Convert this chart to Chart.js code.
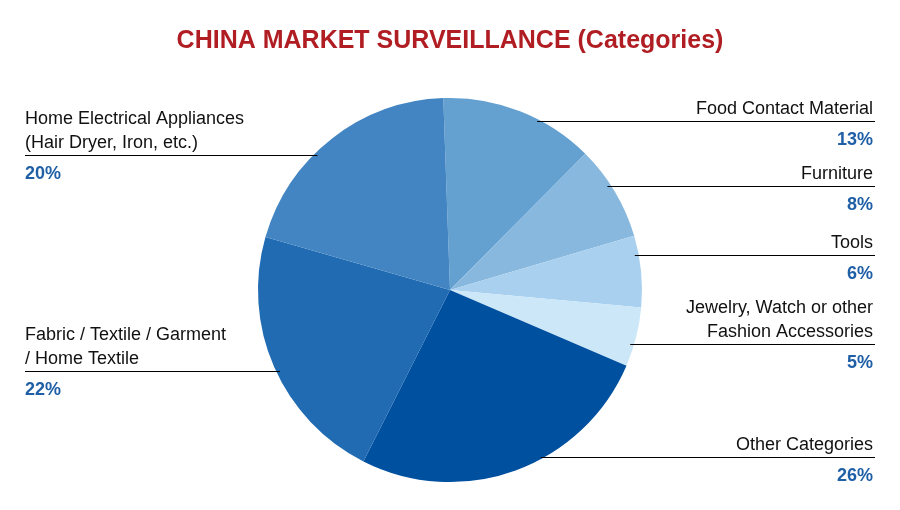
<!DOCTYPE html>
<html><head><meta charset="utf-8">
<script src="https://cdn.jsdelivr.net/npm/chart.js@4"></script>
<style>html,body{margin:0;padding:0;background:#fff}#w{width:900px;height:510px}</style>
</head><body><div id="w"><canvas id="c"></canvas></div>
<script>
const categories = ["Food Contact Material","Furniture","Tools","Jewelry, Watch or other Fashion Accessories","Other Categories","Fabric / Textile / Garment / Home Textile","Home Electrical Appliances (Hair Dryer, Iron, etc.)"];
const values = [13, 8, 6, 5, 26, 22, 20];
const colors = ["#64A0D0","#88B8DE","#A9D0EE","#CBE7F8","#0050A0","#216BB3","#4285C2"];
const labelLines = [["Food Contact Material"],["Furniture"],["Tools"],["Jewelry, Watch or other","Fashion Accessories"],["Other Categories"],["Fabric / Textile / Garment","/ Home Textile"],["Home Electrical Appliances","(Hair Dryer, Iron, etc.)"]];
const lineY = [121,186,255,344,457,371,155];
const side = ["r","r","r","r","r","l","l"];

const labelPlugin = {
  id:'lbl',
  afterDraw(chart){
    const ctx = chart.ctx;
    const arc = chart.getDatasetMeta(0).data[0];
    const cx = arc.x, cy = arc.y, r = arc.outerRadius;
    ctx.save();
    ctx.fillStyle = "#B01E24";
    ctx.font = "bold 25px 'Liberation Sans', Arial";
    ctx.textAlign = "center"; ctx.textBaseline = "alphabetic";
    ctx.fillText("CHINA MARKET SURVEILLANCE (Categories)", 450, 48);
    values.forEach((v,i)=>{
      const y = lineY[i];
      const dx = Math.sqrt(Math.max(0, r*r-(y-cy)*(y-cy)));
      const right = side[i]==="r";
      const x0 = right ? cx+dx-4 : 25, x1 = right ? 875 : cx-dx+4;
      ctx.strokeStyle="#000"; ctx.lineWidth=1;
      ctx.beginPath(); ctx.moveTo(x0,y+0.5); ctx.lineTo(x1,y+0.5); ctx.stroke();
      const tx = right ? 873 : 25;
      ctx.textAlign = right ? "right" : "left";
      ctx.font = "18px 'Liberation Sans', Arial"; ctx.fillStyle="#111";
      const L = labelLines[i];
      L.forEach((t,k)=>{ ctx.fillText(t, tx, y-7-(L.length-1-k)*24); });
      ctx.font = "bold 18px 'Liberation Sans', Arial"; ctx.fillStyle="#1F5FA6";
      ctx.fillText(v+"%", tx, y+24);
    });
    ctx.restore();
  }
};

new Chart(document.getElementById('c'),{
  type:'pie',
  data:{labels:categories,datasets:[{data:values,backgroundColor:colors,borderWidth:0}]},
  options:{responsive:true,maintainAspectRatio:false,animation:false,rotation:-2,
    layout:{padding:{top:98,bottom:28,left:258,right:258}},
    plugins:{legend:{display:false},tooltip:{enabled:false}}},
  plugins:[labelPlugin]
});
</script></body></html>
